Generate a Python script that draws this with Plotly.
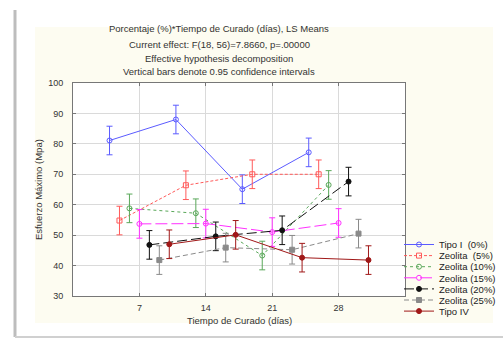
import plotly.graph_objects as go
import numpy as np

# ---------------- data ----------------
days = [7, 14, 21, 28]
series_names = ["Tipo I  (0%)", "Zeolita  (5%)", "Zeolita (10%)", "Zeolita (15%)",
                "Zeolita (20%)", "Zeolita (25%)", "Tipo IV"]
tipo_I = [81.1, 88.0, 65.1, 77.2]
zeo_5 = [54.8, 66.4, 70.0, 70.0]
zeo_10 = [58.8, 57.2, 43.3, 66.5]
zeo_15 = [53.7, 53.8, 51.0, 54.0]
zeo_20 = [46.8, 49.6, 51.6, 67.6]
zeo_25 = [41.8, 45.9, 45.2, 50.5]
tipo_IV = [47.0, 50.1, 42.6, 41.8]
ci_half = [4.7, 4.7, 4.7, 4.7]   # 0.95 confidence half-width
y_ticks = [30, 40, 50, 60, 70, 80, 90, 100]

values = [tipo_I, zeo_5, zeo_10, zeo_15, zeo_20, zeo_25, tipo_IV]

# ---------------- styles ----------------
colors = ["#5b5bff", "#ff5a5a", "#5aa85a", "#ff30ff", "#111111", "#8a8a8a", "#a01818"]
dashes = ["solid", "3px,2px", "dot", "12px,4px", "10px,4px", "5px,3px", "solid"]
symbols = ["circle-open", "square-open", "circle-open", "circle-open", "circle", "square", "circle"]
shift = 1.05  # horizontal dodge between series (days)

W, H = 503, 339
L, R, T, B = 73, 98, 83, 43
pw, ph = W - L - R, H - T - B

def px_x(p):
    return (p - L) / pw

def px_y(p):
    return (H - B - p) / ph

fig = go.Figure()
for i, (name, vals) in enumerate(zip(series_names, values)):
    x = np.array(days, dtype=float) + (i - 3) * shift
    fig.add_trace(go.Scatter(
        x=x, y=vals, name=name, mode="lines+markers",
        line=dict(color=colors[i], width=1, dash=dashes[i]),
        marker=dict(symbol=symbols[i], size=5, color=colors[i], line=dict(width=1, color=colors[i])),
        error_y=dict(type="data", array=ci_half, color=colors[i], thickness=1, width=3),
        legend="legend" if i == 0 else f"legend{i+1}",
    ))

# legends: one per entry for tight spacing
leg_top = 230
leg_step = 11.1
for i in range(len(series_names)):
    key = "legend" if i == 0 else f"legend{i+1}"
    fig.layout[key] = dict(
        x=px_x(399), y=px_y(leg_top + i * leg_step), xanchor="left", yanchor="top",
        bgcolor="rgba(0,0,0,0)", borderwidth=0,
        font=dict(family="Liberation Sans", size=9.5, color="#222"),
        itemwidth=30,
    )

shapes = [
    # cream panel
    dict(type="rect", xref="paper", yref="paper", x0=px_x(35), x1=px_x(493), y0=px_y(323), y1=px_y(27),
         fillcolor="#fdfcf1", line=dict(width=0), layer="below"),
    # white plot area
    dict(type="rect", xref="paper", yref="paper", x0=0, x1=1, y0=0, y1=1,
         fillcolor="white", line=dict(width=0), layer="below"),
    # outer frame shadow lines
    dict(type="line", xref="paper", yref="paper", x0=px_x(15), x1=px_x(15), y0=px_y(337), y1=px_y(10),
         line=dict(color="#bdbdbd", width=3), layer="below"),
    dict(type="line", xref="paper", yref="paper", x0=px_x(15), x1=px_x(503), y0=px_y(337), y1=px_y(337),
         line=dict(color="#d0d0d0", width=2), layer="below"),
]

title_lines = ["Porcentaje (%)*Tiempo de Curado (días), LS Means",
               "Current effect: F(18, 56)=7.8660, p=.00000",
               "Effective hypothesis decomposition",
               "Vertical bars denote 0.95 confidence intervals"]
title_y = [29, 44, 58, 71]
annotations = []
for txt, yy in zip(title_lines, title_y):
    annotations.append(dict(text=txt, xref="paper", yref="paper", x=px_x(219), y=px_y(yy),
                            xanchor="center", yanchor="middle", showarrow=False,
                            font=dict(family="Liberation Sans", size=9.5, color="#333")))
annotations.append(dict(text="Esfuerzo Máximo (Mpa)", xref="paper", yref="paper", x=px_x(38), y=px_y(190),
                        xanchor="center", yanchor="middle", textangle=-90, showarrow=False,
                        font=dict(family="Liberation Sans", size=9.5, color="#333")))
annotations.append(dict(text="Tiempo de Curado (días)", xref="paper", yref="paper", x=px_x(239), y=px_y(320),
                        xanchor="center", yanchor="middle", showarrow=False,
                        font=dict(family="Liberation Sans", size=9.5, color="#333")))

fig.update_layout(
    width=W, height=H, margin=dict(l=L, r=R, t=T, b=B, pad=0, autoexpand=False),
    paper_bgcolor="white", plot_bgcolor="white",
    showlegend=True, shapes=shapes, annotations=annotations,
    font=dict(family="Liberation Sans", size=9, color="#333"),
)
fig.update_xaxes(range=[0, 35], tickvals=days, ticks="inside", ticklen=3, tickcolor="#777",
                 showline=True, linecolor="#777", linewidth=1, mirror="ticks",
                 showgrid=True, gridcolor="#dadada", gridwidth=1, zeroline=False,
                 ticklabelstandoff=3, tickfont=dict(size=9, color="#333"))
fig.update_yaxes(range=[30, 100], tickvals=y_ticks, ticks="inside", ticklen=3, tickcolor="#777",
                 showline=True, linecolor="#777", linewidth=1, mirror="ticks",
                 showgrid=True, gridcolor="#dadada", gridwidth=1, zeroline=False,
                 ticklabelstandoff=7, tickfont=dict(size=9, color="#333"))

fig.write_html("out.html", config={"displayModeBar": False},
               post_script="document.body.style.margin='0px';document.body.style.overflow='hidden';")
